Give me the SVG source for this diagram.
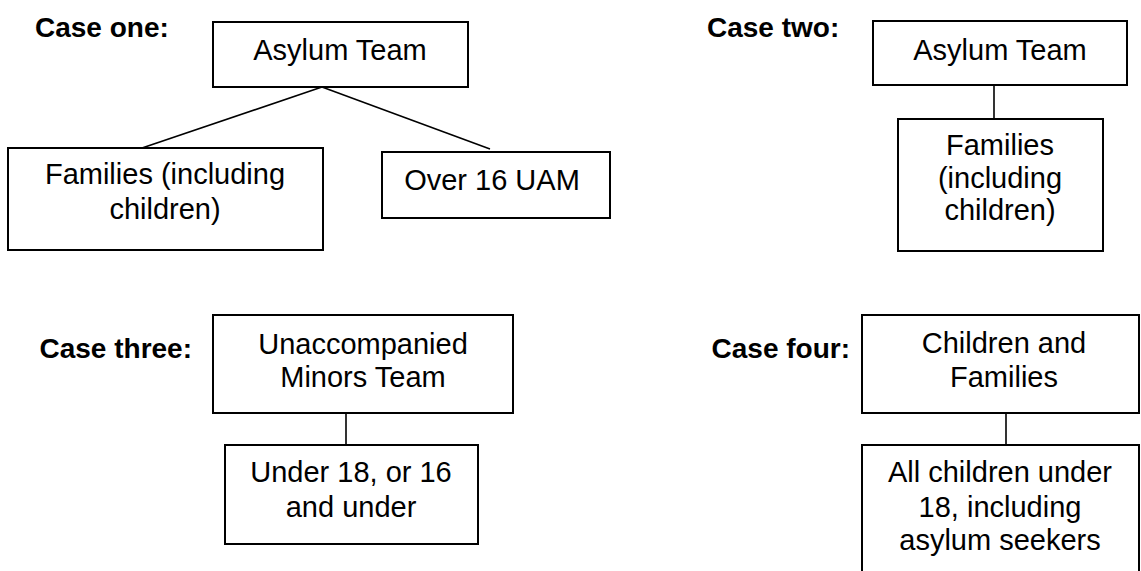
<svg xmlns="http://www.w3.org/2000/svg" width="1141" height="571" viewBox="0 0 1141 571">
<style>
.box{fill:#fff;stroke:#000;stroke-width:2}
.t{font-family:"Liberation Sans",Arial,sans-serif;font-size:29px;fill:#000;text-anchor:middle}
.lbl{font-family:"Liberation Sans",Arial,sans-serif;font-size:28px;font-weight:bold;fill:#000}
.end{text-anchor:end}
.ln{stroke:#000;stroke-width:1.6;fill:none}
</style>
<rect width="1141" height="571" fill="#fff"/>
<g id="connectors">
<line class="ln" x1="322" y1="87" x2="142" y2="148"/>
<line class="ln" x1="322" y1="87" x2="490" y2="149"/>
<line class="ln" x1="994" y1="85" x2="994" y2="119"/>
<line class="ln" x1="346" y1="413" x2="346" y2="445"/>
<line class="ln" x1="1006" y1="413" x2="1006" y2="445"/>
</g>
<g id="labels">
<text class="lbl" x="35" y="37">Case one:</text>
<text class="lbl" x="707" y="37">Case two:</text>
<text class="lbl end" x="192" y="358">Case three:</text>
<text class="lbl end" x="850" y="358">Case four:</text>
</g>
<g id="c1-asylum"><rect class="box" x="213" y="22" width="255" height="65"/><text class="t" x="340" y="60">Asylum Team</text></g>
<g id="c1-families"><rect class="box" x="8" y="148" width="315" height="102"/><text class="t" x="165" y="184">Families (including</text><text class="t" x="165" y="219">children)</text></g>
<g id="c1-over16"><rect class="box" x="382" y="152" width="228" height="66"/><text class="t" x="492" y="190">Over 16 UAM</text></g>
<g id="c2-asylum"><rect class="box" x="873" y="21" width="254" height="64"/><text class="t" x="1000" y="60">Asylum Team</text></g>
<g id="c2-families"><rect class="box" x="898" y="119" width="205" height="132"/><text class="t" x="1000" y="155">Families</text><text class="t" x="1000" y="188">(including</text><text class="t" x="1000" y="220">children)</text></g>
<g id="c3-uam"><rect class="box" x="213" y="315" width="300" height="98"/><text class="t" x="363" y="354">Unaccompanied</text><text class="t" x="363" y="387">Minors Team</text></g>
<g id="c3-under"><rect class="box" x="225" y="445" width="253" height="99"/><text class="t" x="351" y="482">Under 18, or 16</text><text class="t" x="351" y="517">and under</text></g>
<g id="c4-cf"><rect class="box" x="862" y="315" width="277" height="98"/><text class="t" x="1004" y="353">Children and</text><text class="t" x="1004" y="387">Families</text></g>
<g id="c4-all"><rect class="box" x="862" y="445" width="277" height="140"/><text class="t" x="1000" y="482">All children under</text><text class="t" x="1000" y="517">18, including</text><text class="t" x="1000" y="550">asylum seekers</text></g>
</svg>
